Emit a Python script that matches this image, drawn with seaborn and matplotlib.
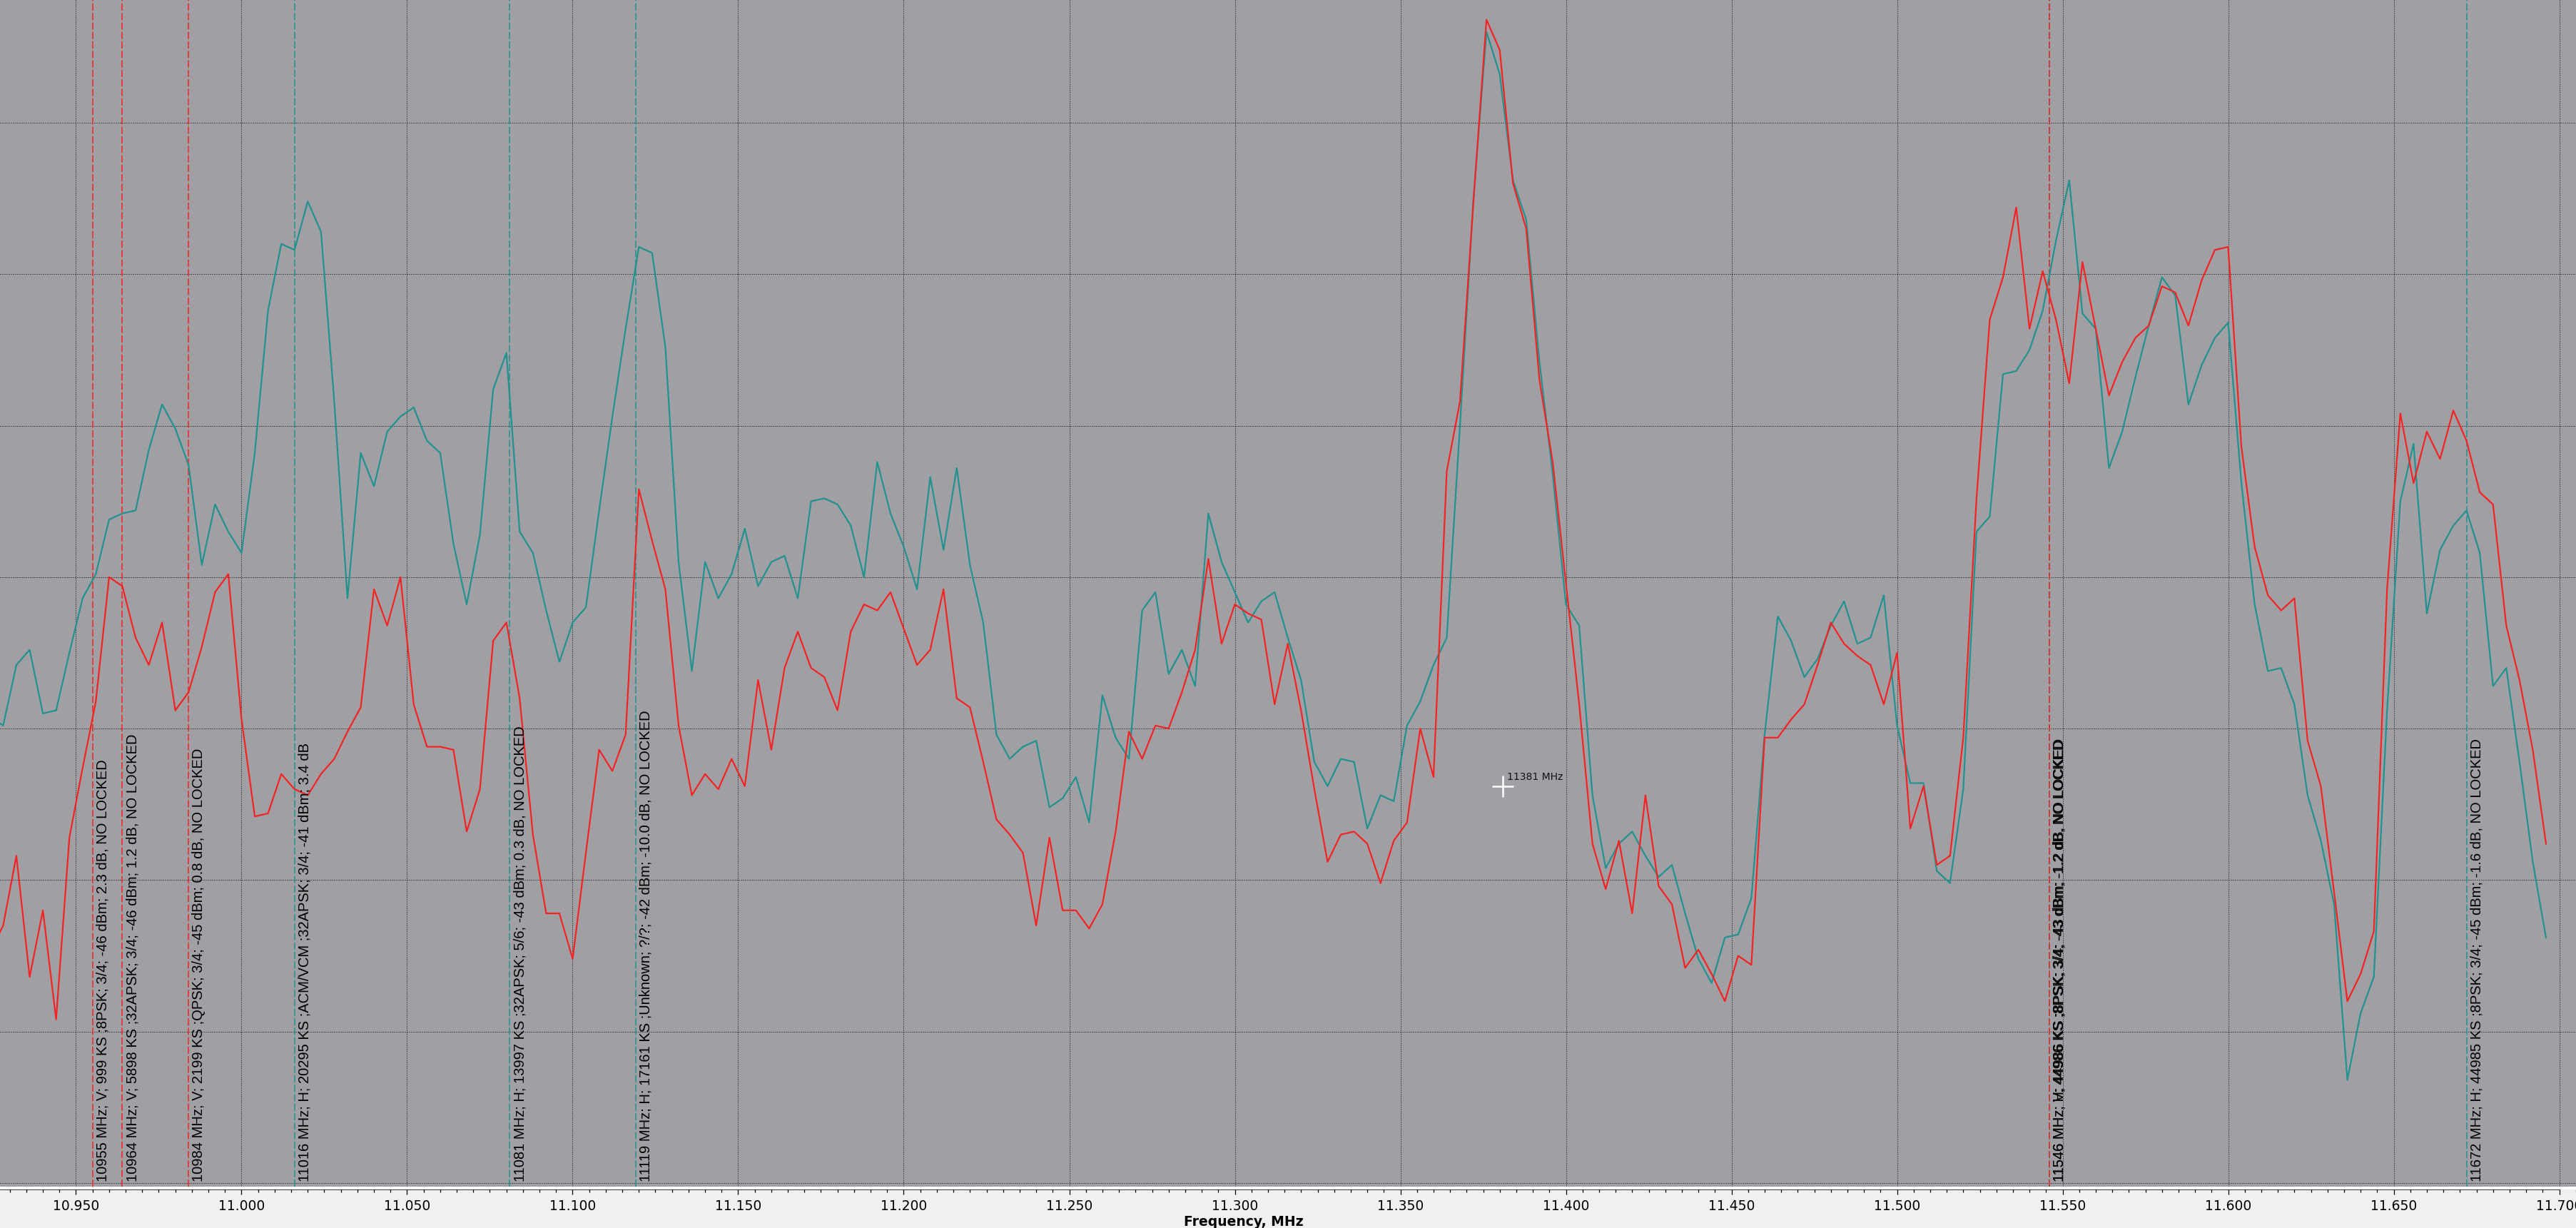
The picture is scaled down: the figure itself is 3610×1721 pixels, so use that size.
import matplotlib
matplotlib.use('Agg')
import matplotlib.pyplot as plt
import matplotlib.ticker as mticker
from matplotlib.patches import Rectangle
import seaborn as sns
import pandas as pd

# spectrum sampling grid, MHz (4 MHz step)
freq_mhz = list(range(10924, 11700, 4))

# H polarisation (teal), dB
level_h = [
    -54.6,
    -54.9, -52.9, -52.4, -54.5, -54.4, -52.5, -50.7, -49.9, -48.1, -47.9,
    -47.8, -45.8, -44.3, -45.1, -46.3, -49.6, -47.6, -48.5, -49.2, -45.9,
    -41.2, -39.0, -39.2, -37.6, -38.6, -44.2, -50.7, -45.9, -47.0, -45.2,
    -44.7, -44.4, -45.5, -45.9, -48.9, -50.9, -48.6, -43.8, -42.6, -48.5,
    -49.2, -51.1, -52.8, -51.5, -51.0, -47.8, -44.7, -41.8, -39.1, -39.3,
    -42.4, -49.5, -53.1, -49.5, -50.7, -49.9, -48.4, -50.3, -49.5, -49.3,
    -50.7, -47.5, -47.4, -47.6, -48.3, -50.0, -46.2, -47.9, -49.0, -50.4,
    -46.7, -49.1, -46.4, -49.6, -51.5, -55.2, -56.0, -55.6, -55.4, -57.6,
    -57.3, -56.6, -58.1, -53.9, -55.3, -56.0, -51.1, -50.5, -53.2, -52.4,
    -53.6, -47.9, -49.5, -50.5, -51.5, -50.8, -50.5, -52.0, -53.4, -56.1,
    -56.9, -56.0, -56.1, -58.3, -57.2, -57.4, -54.9, -54.1, -52.9, -52.0,
    -45.0, -37.6, -32.0, -33.4, -36.9, -38.2, -42.9, -46.6, -50.9, -51.6,
    -57.2, -59.6, -58.8, -58.4, -59.2, -59.9, -59.5, -61.1, -62.6, -63.4,
    -61.9, -61.8, -60.6, -55.2, -51.3, -52.1, -53.3, -52.7, -51.6, -50.8,
    -52.2, -52.0, -50.6, -54.9, -56.8, -56.8, -59.7, -60.1, -57.0, -48.5,
    -48.0, -43.3, -43.2, -42.5, -41.2, -38.9, -36.9, -41.3, -41.8, -46.4,
    -45.2, -43.4, -41.7, -40.1, -40.7, -44.3, -43.0, -42.1, -41.6, -46.9,
    -50.9, -53.1, -53.0, -54.2, -57.2, -58.7, -60.8, -66.6, -64.4, -63.2,
    -54.4, -47.5, -45.6, -51.2, -49.1, -48.3, -47.8, -49.2, -53.6, -53.0,
    -56.1, -59.4, -61.9,
]

# V polarisation (red), dB
level_v = [
    -62.4,
    -61.5, -59.2, -63.2, -61.0, -64.6, -58.6, -56.3, -54.1, -50.0, -50.3,
    -52.0, -52.9, -51.5, -54.4, -53.8, -52.3, -50.5, -49.9, -54.7, -57.9,
    -57.8, -56.5, -57.0, -57.2, -56.5, -56.0, -55.1, -54.3, -50.4, -51.6,
    -50.0, -54.2, -55.6, -55.6, -55.7, -58.4, -57.0, -52.1, -51.5, -54.0,
    -58.5, -61.1, -61.1, -62.6, -59.1, -55.7, -56.4, -55.2, -47.1, -48.8,
    -50.4, -54.9, -57.2, -56.5, -57.0, -56.0, -56.9, -53.4, -55.7, -53.0,
    -51.8, -53.0, -53.3, -54.4, -51.8, -50.9, -51.1, -50.5, -51.7, -52.9,
    -52.4, -50.4, -54.0, -54.3, -56.1, -58.0, -58.5, -59.1, -61.5, -58.6,
    -61.0, -61.0, -61.6, -60.8, -58.4, -55.1, -56.0, -54.9, -55.0, -53.8,
    -52.4, -49.4, -52.2, -50.9, -51.2, -51.4, -54.2, -52.2, -54.4, -57.0,
    -59.4, -58.5, -58.4, -58.8, -60.1, -58.7, -58.1, -55.0, -56.6, -46.5,
    -44.2, -37.7, -31.6, -32.6, -37.0, -38.5, -43.5, -46.2, -50.2, -54.2,
    -58.8, -60.3, -58.7, -61.1, -57.2, -60.2, -60.8, -62.9, -62.3, -63.1,
    -64.0, -62.5, -62.8, -55.3, -55.3, -54.7, -54.2, -52.9, -51.5, -52.2,
    -52.6, -52.9, -54.2, -52.5, -58.3, -56.9, -59.5, -59.2, -55.3, -47.4,
    -41.5, -40.1, -37.8, -41.8, -39.9, -41.5, -43.6, -39.6, -41.8, -44.0,
    -42.9, -42.1, -41.7, -40.4, -40.6, -41.7, -40.2, -39.2, -39.1, -45.7,
    -49.0, -50.6, -51.1, -50.7, -55.4, -56.9, -60.4, -64.0, -63.1, -61.7,
    -50.4, -44.6, -46.9, -45.2, -46.1, -44.5, -45.5, -47.2, -47.6, -51.6,
    -53.4, -55.7, -58.8,
]

# transponder markers
marker_freq = [10955, 10964, 10984, 11016, 11081, 11119, 11546, 11546, 11672]
marker_pol = ['V', 'V', 'V', 'H', 'H', 'H', 'H', 'V', 'H']
marker_text = [
    '10955 MHz; V; 999 KS ;8PSK; 3/4; -46 dBm; 2.3 dB, NO LOCKED',
    '10964 MHz; V; 5898 KS ;32APSK; 3/4; -46 dBm; 1.2 dB, NO LOCKED',
    '10984 MHz; V; 2199 KS ;QPSK; 3/4; -45 dBm; 0.8 dB, NO LOCKED',
    '11016 MHz; H; 20295 KS ;ACM/VCM ;32APSK; 3/4; -41 dBm; 3.4 dB',
    '11081 MHz; H; 13997 KS ;32APSK; 5/6; -43 dBm; 0.3 dB, NO LOCKED',
    '11119 MHz; H; 17161 KS ;Unknown; ?/?; -42 dBm; -10.0 dB, NO LOCKED',
    '11546 MHz; H; 44986 KS ;8PSK; 3/4; -43 dBm; -1.2 dB, NO LOCKED',
    '11546 MHz; V; 44986 KS ;8PSK; 3/4; -43 dBm; -1.2 dB, NO LOCKED',
    '11672 MHz; H; 44985 KS ;8PSK; 3/4; -45 dBm; -1.6 dB, NO LOCKED',
]

cursor_freq = 11381
cursor_level = -56.9

pol_colors = {'H': '#229290', 'V': '#f42424'}

df = pd.DataFrame({
    'freq': [f / 1000 for f in freq_mhz] * 2,
    'level': level_h + level_v,
    'pol': ['H'] * len(freq_mhz) + ['V'] * len(freq_mhz),
})

W, H = 3610, 1721
fig = plt.figure(figsize=(W / 100, H / 100), dpi=100, facecolor='#f0f0f0')
ax = fig.add_axes([0, 58 / H, 1, 1663 / H])
ax.set_facecolor('#a09fa4')
fig.patches.append(Rectangle((0, 54 / H), 1, 4 / H, transform=fig.transFigure,
                             facecolor='white', edgecolor='none', zorder=0))

sns.lineplot(data=df, x='freq', y='level', hue='pol', palette=pol_colors,
             estimator=None, sort=False, linewidth=1.6, legend=False, ax=ax, zorder=3)

xmin, xmax = 10.92705, 11.70506
ax.set_xlim(xmin, xmax)
ax.set_ylim(-70.12, -30.95)

# marker lines and labels
for f, p, t in zip(marker_freq, marker_pol, marker_text):
    ax.axvline(f / 1000, color=pol_colors[p], lw=1.1, dashes=(6.5, 2.2), zorder=2)
    ax.annotate(t, xy=(f / 1000, 0.0045), xycoords=('data', 'axes fraction'),
                xytext=(5, 0), textcoords='offset pixels', rotation=90,
                ha='left', va='bottom', fontsize=14.5, color='black',
                family=['Liberation Sans', 'DejaVu Sans'], zorder=5)

# cursor
ax.plot([cursor_freq / 1000], [cursor_level], marker='+', ms=21, mew=1.8,
        color='white', zorder=6)
ax.annotate(f'{cursor_freq} MHz', xy=(cursor_freq / 1000, cursor_level),
            xytext=(6, 9), textcoords='offset pixels', ha='left', va='baseline',
            fontsize=10, color='#111111', family='DejaVu Sans', zorder=6)

# grid
ax.xaxis.set_major_locator(mticker.MultipleLocator(0.05))
ax.xaxis.set_minor_locator(mticker.MultipleLocator(0.005))
ax.xaxis.set_major_formatter(mticker.FormatStrFormatter('%.3f'))
ax.set_yticks([-70, -65, -60, -55, -50, -45, -40, -35])
ax.grid(True, which='major', color='black', lw=0.72, linestyle=(0, (1, 2)))
ax.set_axisbelow(True)
ax.tick_params(axis='y', left=False, labelleft=False)
ax.tick_params(axis='x', which='major', length=5, width=0.9, color='black',
               direction='out', pad=5, labelsize=13.5, labelcolor='black')
ax.tick_params(axis='x', which='minor', length=3, width=0.9, color='black',
               direction='out')

for s in ['top', 'left', 'right']:
    ax.spines[s].set_visible(False)
ax.spines['bottom'].set_position(('outward', 2.9))
ax.spines['bottom'].set_color('black')
ax.spines['bottom'].set_linewidth(1.1)
ax.spines['bottom'].set_bounds(xmin, 11.700)

ax.set_xlabel('Frequency, MHz', fontsize=13.5, fontweight='bold', color='black')
ax.xaxis.set_label_coords(1743 / W, -40 / 1663)
ax.set_ylabel('')

fig.savefig('out.png', dpi=100, facecolor=fig.get_facecolor())
